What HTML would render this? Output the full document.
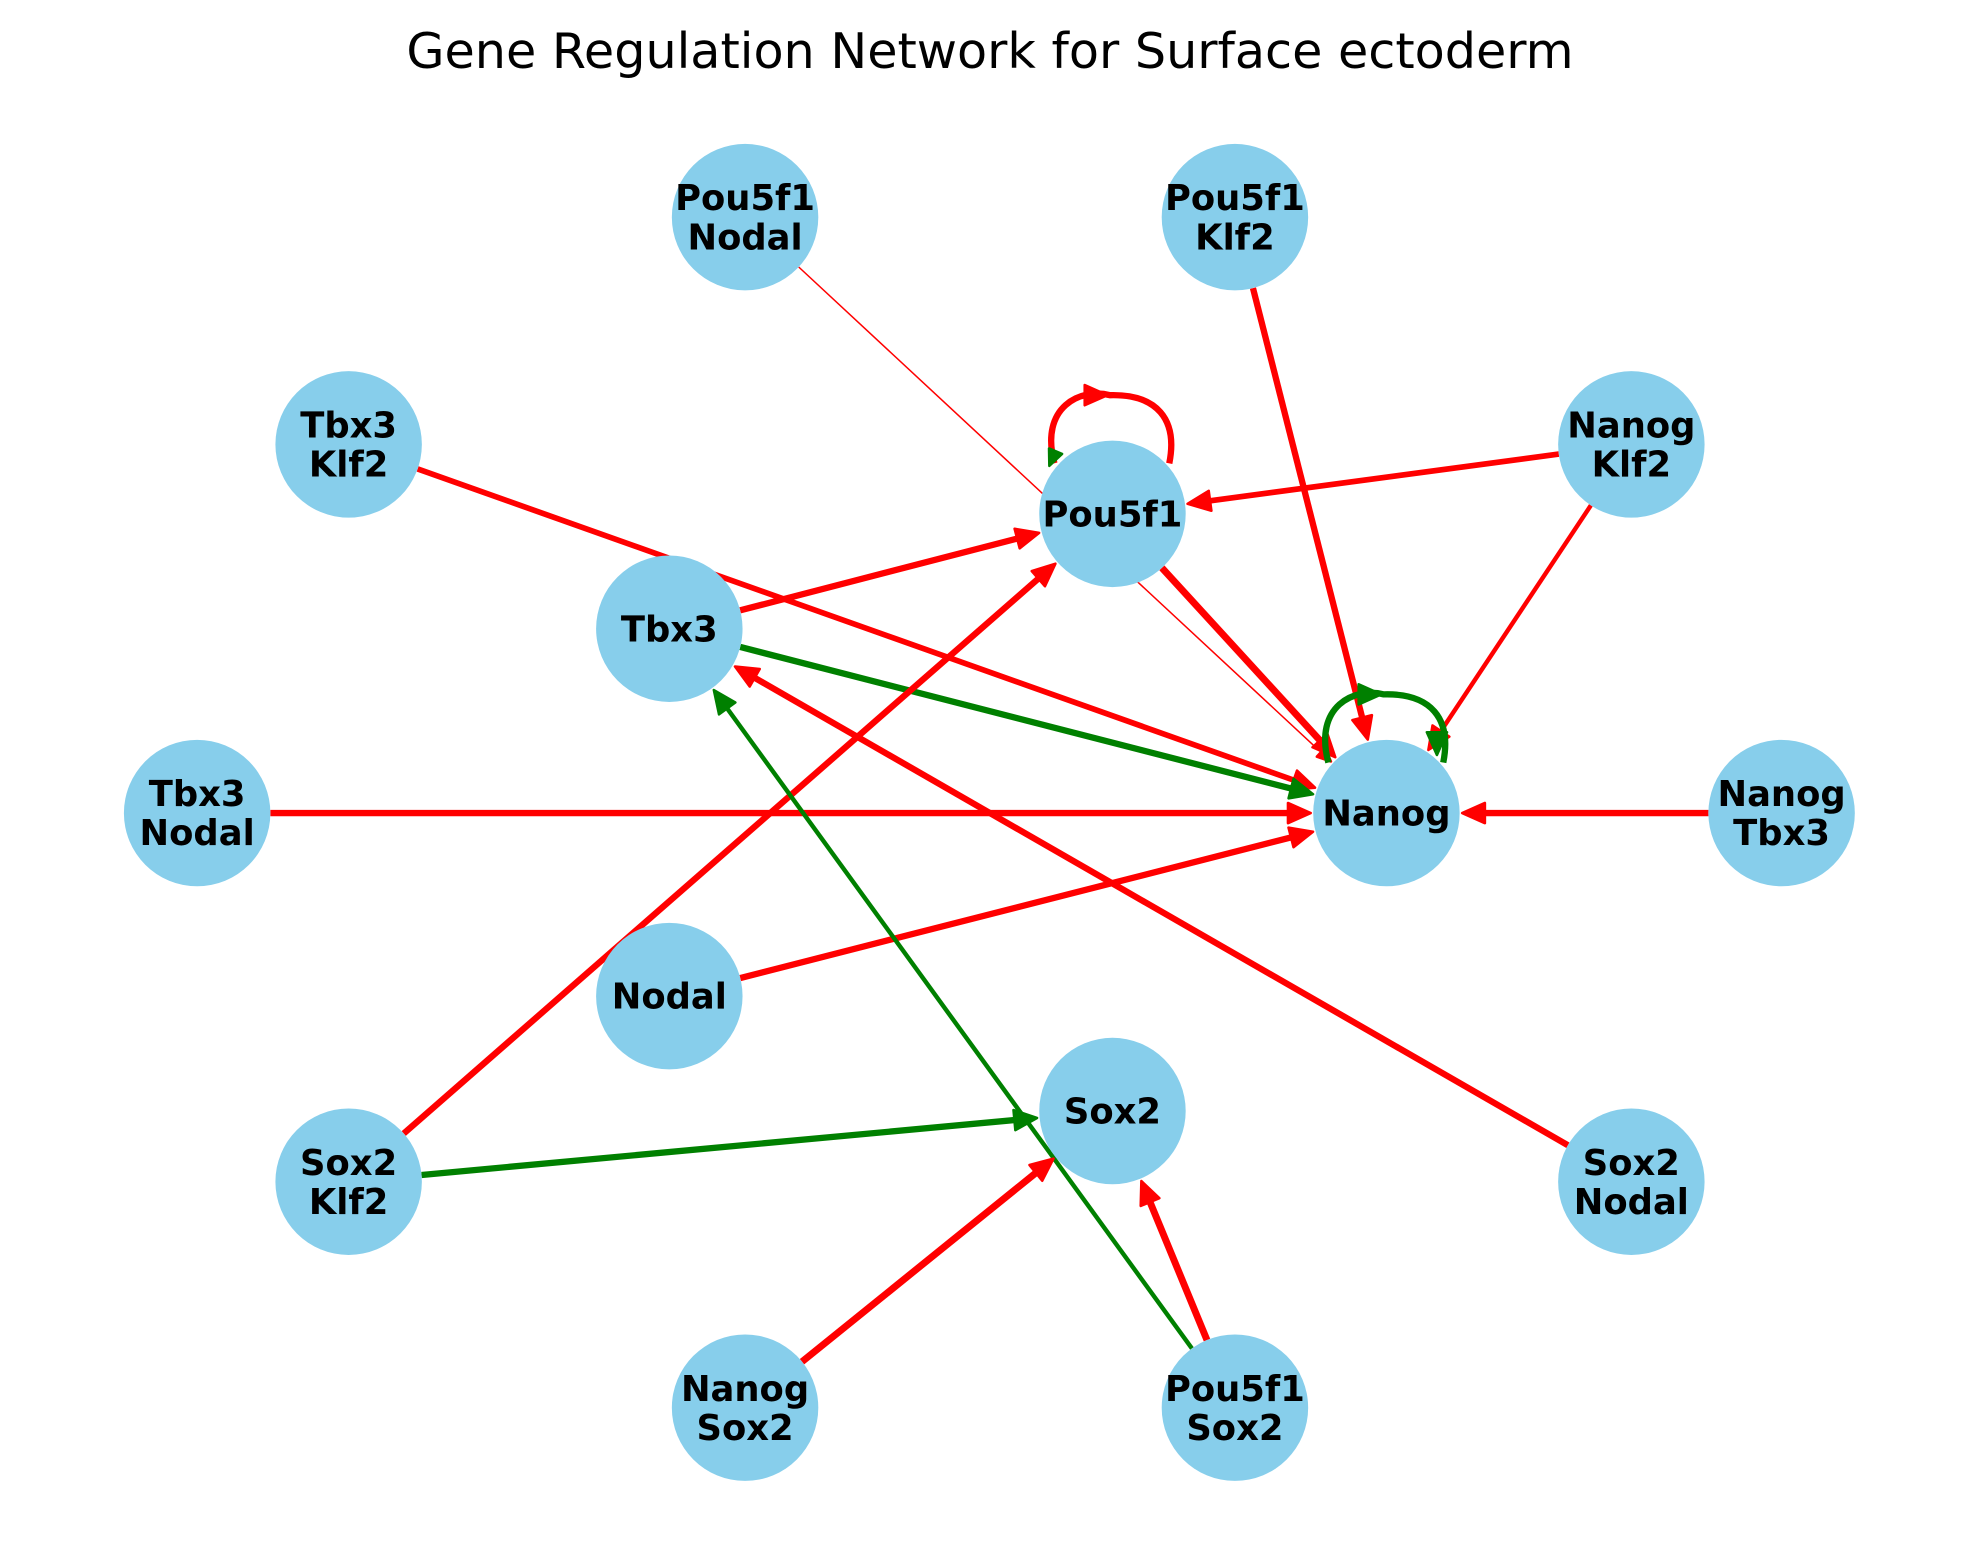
<!DOCTYPE html>
<html><head><meta charset="utf-8"><style>
html,body{margin:0;padding:0;background:#fff;}
svg{display:block;}
text{font-family:"DejaVu Sans","Liberation Sans",sans-serif;}
</style></head><body>
<svg id="chart" width="1980" height="1563" viewBox="0 0 1568 1238" xmlns="http://www.w3.org/2000/svg">
<rect width="1568" height="1238" fill="#fff"/>
<text x="784" y="54" text-anchor="middle" font-size="39">Gene Regulation Network for Surface ectoderm</text>
<g id="edges"></g>
<g id="nodes"></g>
</svg>
<script>
const nodeNames = ["Pou5f1\nNodal","Pou5f1\nKlf2","Tbx3\nKlf2","Nanog\nKlf2","Pou5f1","Tbx3","Tbx3\nNodal","Nanog","Nanog\nTbx3","Nodal","Sox2","Sox2\nKlf2","Sox2\nNodal","Nanog\nSox2","Pou5f1\nSox2"];
const nodeX = [590,978,276,1292,881,530,156,1098,1411,530,881,276,1292,590,978];
const nodeY = [172,172,352,352,407,498,644,644,644,789,880,936,936,1115,1115];
const edgeSrc = [0,1,2,3,3,4,5,5,6,8,9,11,11,12,14,14,13];
const edgeDst = [7,7,7,4,7,7,4,7,7,7,7,4,10,5,5,10,10];
const edgeColor = ["red","red","red","red","red","red","red","green","red","red","red","red","green","red","green","red","red"];
const edgeWidth = [1.2,5,4.5,4.5,3.5,5.5,5,5,5,5,5,5,5,5,3.5,5.5,5.5];
const R = 58;
const NS = "http://www.w3.org/2000/svg";
const eg = document.getElementById('edges'), ng = document.getElementById('nodes');
function arrowHead(x, y, ang, color, scale) {
  const L = 18*scale, W = 8*scale;
  const bx = x - L*Math.cos(ang), by = y - L*Math.sin(ang);
  const px = -Math.sin(ang)*W, py = Math.cos(ang)*W;
  const p = document.createElementNS(NS,'polygon');
  p.setAttribute('points', `${x},${y} ${bx+px},${by+py} ${bx-px},${by-py}`);
  p.setAttribute('fill', color);
  p.setAttribute('stroke', color);
  p.setAttribute('stroke-width', 2);
  p.setAttribute('stroke-linejoin','round');
  return p;
}
for (let i = 0; i < edgeSrc.length; i++) {
  const s = edgeSrc[i], d = edgeDst[i];
  const x1 = nodeX[s], y1 = nodeY[s], x2 = nodeX[d], y2 = nodeY[d];
  const ang = Math.atan2(y2-y1, x2-x1);
  const sx = x1 + R*Math.cos(ang), sy = y1 + R*Math.sin(ang);
  const ex = x2 - (R+2)*Math.cos(ang), ey = y2 - (R+2)*Math.sin(ang);
  const g = document.createElementNS(NS,'g');
  
  
  const sc = edgeWidth[i] < 2 ? 0.6 : 1;
  const l = document.createElementNS(NS,'line');
  l.setAttribute('x1', sx); l.setAttribute('y1', sy);
  l.setAttribute('x2', ex - 12*sc*Math.cos(ang)); l.setAttribute('y2', ey - 12*sc*Math.sin(ang));
  l.setAttribute('stroke', edgeColor[i]);
  l.setAttribute('stroke-width', edgeWidth[i]);
  g.appendChild(l);
  g.appendChild(arrowHead(ex, ey, ang, edgeColor[i], sc));
  eg.appendChild(g);
}
const loopNode = [4, 7];
const loopColor = ["red", "green"];
for (let k = 0; k < loopNode.length; k++) {
  const n = loopNode[k], cx = nodeX[n], cy = nodeY[n];
  const g = document.createElementNS(NS,'g');
  
  
  const p = document.createElementNS(NS,'path');
  p.setAttribute('d', `M${cx-46},${cy-40} C${cx-58},${cy-85} ${cx-25},${cy-100} ${cx-2},${cy-94} C${cx+35},${cy-95} ${cx+52},${cy-75} ${cx+45},${cy-40}`);
  p.setAttribute('fill','none');
  p.setAttribute('stroke', loopColor[k]);
  p.setAttribute('stroke-width', 5);
  g.appendChild(p);
  g.appendChild(arrowHead(cx-4, cy-94, 0, loopColor[k], 1));
  if (k === 1) g.appendChild(arrowHead(cx+40, cy-46, Math.PI/2, loopColor[k], 1));
  if (k === 0) g.appendChild(arrowHead(cx-50, cy-38, Math.PI/2+0.4, "green", 0.7));
  eg.appendChild(g);
}
for (let i = 0; i < nodeNames.length; i++) {
  const g = document.createElementNS(NS,'g');
  
  
  const c = document.createElementNS(NS,'circle');
  c.setAttribute('cx', nodeX[i]); c.setAttribute('cy', nodeY[i]); c.setAttribute('r', R);
  c.setAttribute('fill', '#87ceeb');
  g.appendChild(c);
  const lines = nodeNames[i].split('\n');
  lines.forEach((ln, j) => {
    const t = document.createElementNS(NS,'text');
    t.setAttribute('x', nodeX[i]);
    t.setAttribute('y', nodeY[i] + 10 + (j - (lines.length-1)/2)*31);
    t.setAttribute('text-anchor','middle');
    t.setAttribute('font-size', 28);
    t.setAttribute('font-weight','bold');
    t.textContent = ln;
    g.appendChild(t);
  });
  ng.appendChild(g);
}
</script>
</body></html>
